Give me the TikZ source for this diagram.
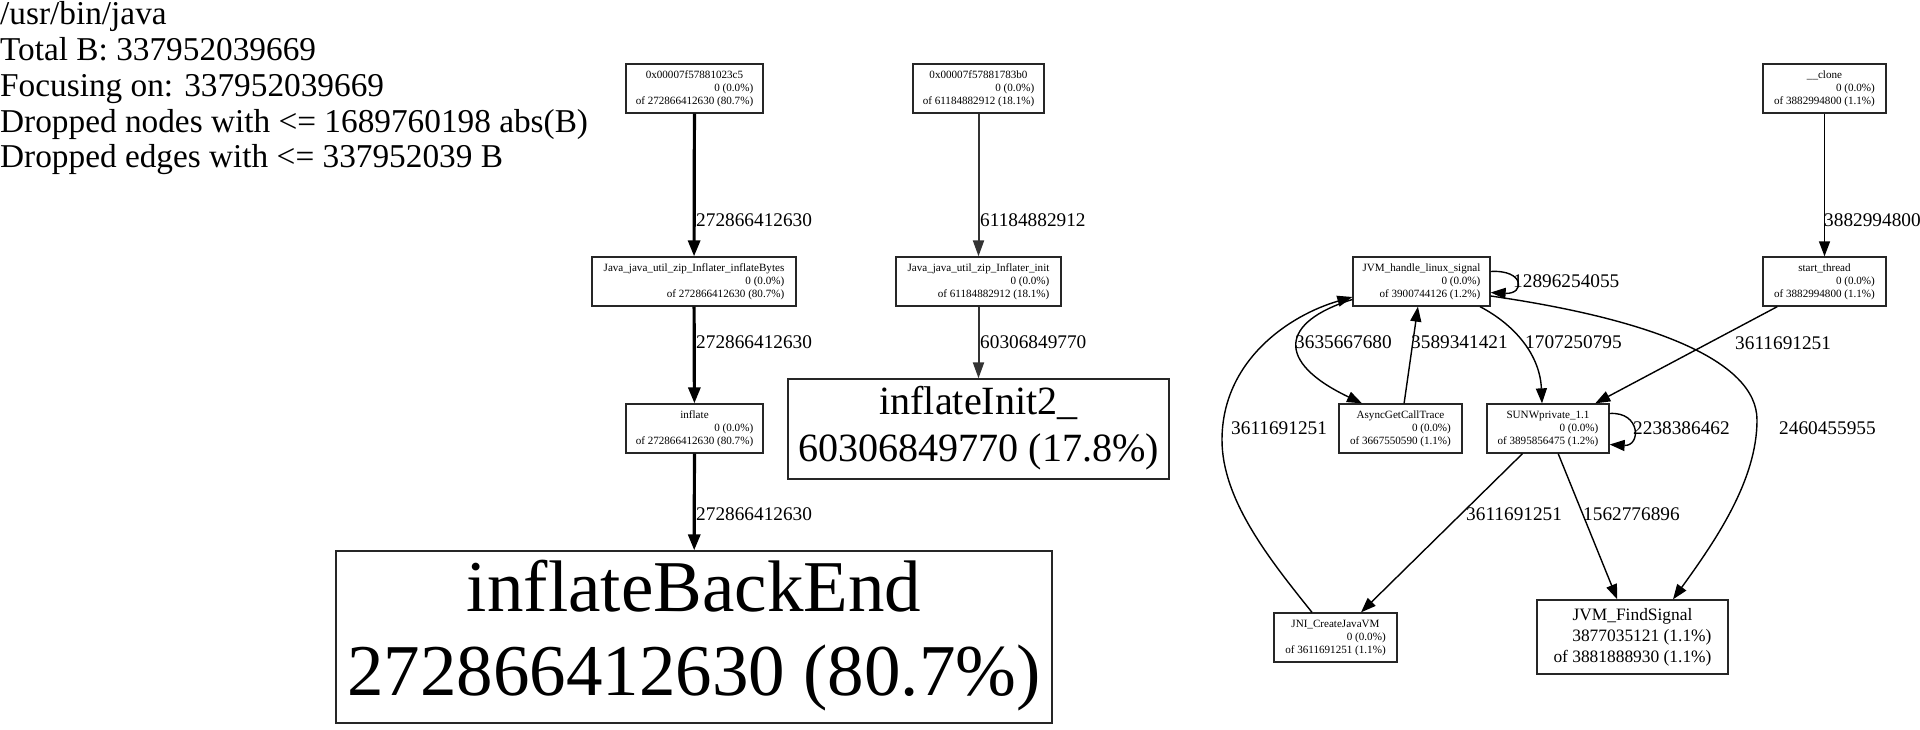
\documentclass[tikz,border=0pt]{standalone}
\usepackage{fontspec}
\setmainfont{Liberation Serif}
\usetikzlibrary{arrows.meta}
\newcommand{\gvbox}[3]{\begin{tabular}{@{}r@{}}\multicolumn{1}{@{}c@{}}{#1}\\#2\\#3\end{tabular}}
\newcommand{\gvbig}[2]{\begin{tabular}{@{}c@{}}#1\\#2\end{tabular}}
\begin{document}
\begin{tikzpicture}[x=1pt,y=-1pt,
  gv/.style={draw=black!85, line width=1.3pt, fill=white, inner sep=0pt, minimum height=49pt, font=\fontsize{11.1}{13}\selectfont},
  e1/.style={-{Triangle[length=15pt,width=11pt]}, line width=1.4pt},
  e2/.style={-{Triangle[length=16pt,width=11pt]}, line width=2pt, draw=black!80, fill=black},
  e3/.style={-{Triangle[length=16pt,width=12pt]}, line width=3.2pt},
  lbl/.style={anchor=west, inner sep=0pt, font=\fontsize{19.3}{23}\selectfont},
  hdr/.style={anchor=base west, inner sep=0pt, font=\fontsize{33.3}{36}\selectfont}]
\path[use as bounding box, fill=white] (0,0) rectangle (1920,730);

% legend
\node[hdr] (l1) at (0,25) {/usr/bin/java};
\node[hdr] (l2) at (0,61) {Total B: 337952039669};
\node[hdr] (l3) at (0,97) {Focusing on: 337952039669};
\node[hdr] (l4) at (0,133) {Dropped nodes with <= 1689760198 abs(B)};
\node[hdr] (l5) at (0,168) {Dropped edges with <= 337952039 B};

% left column
\node[gv, minimum width=137pt] (n1) at (694.5,88.5) {\gvbox{0x00007f57881023c5}{0 (0.0\%)}{of 272866412630 (80.7\%)}};
\node[gv, minimum width=204pt] (ib) at (694,281.5) {\gvbox{Java\_java\_util\_zip\_Inflater\_inflateBytes}{0 (0.0\%)}{of 272866412630 (80.7\%)}};
\node[gv, minimum width=137pt] (inf) at (694.5,428.5) {\gvbox{inflate}{0 (0.0\%)}{of 272866412630 (80.7\%)}};
\node[gv, minimum width=716pt, minimum height=172pt, font=\fontsize{73}{84}\selectfont] (ibe) at (694,637) {\gvbig{inflateBackEnd}{272866412630 (80.7\%)}};

% second column
\node[gv, minimum width=131pt] (n2) at (978.5,88.5) {\gvbox{0x00007f57881783b0}{0 (0.0\%)}{of 61184882912 (18.1\%)}};
\node[gv, minimum width=165pt] (ii) at (978.5,281.5) {\gvbox{Java\_java\_util\_zip\_Inflater\_init}{0 (0.0\%)}{of 61184882912 (18.1\%)}};
\node[gv, minimum width=381pt, minimum height=100pt, font=\fontsize{40.1}{47}\selectfont] (ii2) at (978.5,429) {\gvbig{inflateInit2\_}{60306849770 (17.8\%)}};

% right cluster
\node[gv, minimum width=123pt] (clone) at (1824.5,88.5) {\gvbox{\_\_clone}{0 (0.0\%)}{of 3882994800 (1.1\%)}};
\node[gv, minimum width=123pt] (st) at (1824.5,281.5) {\gvbox{start\_thread}{0 (0.0\%)}{of 3882994800 (1.1\%)}};
\node[gv, minimum width=137pt] (jh) at (1421.5,281.5) {\gvbox{JVM\_handle\_linux\_signal}{0 (0.0\%)}{of 3900744126 (1.2\%)}};
\node[gv, minimum width=123pt] (ag) at (1400.5,428.5) {\gvbox{AsyncGetCallTrace}{0 (0.0\%)}{of 3667550590 (1.1\%)}};
\node[gv, minimum width=122pt] (sun) at (1548,428.5) {\gvbox{SUNWprivate\_1.1}{0 (0.0\%)}{of 3895856475 (1.2\%)}};
\node[gv, minimum width=123pt] (jni) at (1335.5,637.5) {\gvbox{JNI\_CreateJavaVM}{0 (0.0\%)}{of 3611691251 (1.1\%)}};
\node[gv, minimum width=191pt, minimum height=74pt, font=\fontsize{17.4}{21}\selectfont] (fs) at (1632.5,637) {\gvbox{JVM\_FindSignal}{3877035121 (1.1\%)}{of 3881888930 (1.1\%)}};

% edges left
\draw[e3] (n1) -- (ib);
\draw[e3] (ib) -- (inf);
\draw[e3] (inf) -- (ibe);
\node[lbl] (t1) at (696,220) {272866412630};
\node[lbl] (t2) at (696,342) {272866412630};
\node[lbl] (t3) at (696,514) {272866412630};

\draw[e2] (n2) -- (ii);
\draw[e2] (ii) -- (ii2);
\node[lbl] (t4) at (980,220) {61184882912};
\node[lbl] (t5) at (980,342) {60306849770};

% edges right
\draw[e1] (clone) -- (st);
\node[lbl] (t6) at (1824,220) {3882994800};

\draw[e1] ([yshift=10]jh.east) .. controls (1525,269.5) and (1525,294.5) .. ([yshift=-11]jh.east);
\node[lbl] (t7) at (1513,281) {12896254055};

\draw[e1] ([yshift=-18]jh.west) .. controls (1280,322) and (1275,362) .. ([xshift=-38.5]ag.north);
\node[lbl] (t8) at (1295,342) {3635667680};

\draw[e1] (ag) -- (jh);
\node[lbl] (t9) at (1411,342) {3589341421};

\draw[e1] ([xshift=58.5]jh.south) .. controls (1515,325) and (1540,355) .. ([xshift=-6]sun.north);
\node[lbl] (t10) at (1525,342) {1707250795};

\draw[e1] (st) -- (sun);
\node[lbl] (t11) at (1735,343) {3611691251};

\draw[e1] ([yshift=-14.5]jh.east) .. controls (1650,319) and (1757,360) .. (1757,420) .. controls (1757,480) and (1716,540) .. ([xshift=40.5]fs.north);
\node[lbl] (t14) at (1779,428) {2460455955};

\draw[e1] ([yshift=15]sun.east) .. controls (1641,411.5) and (1641,446.5) .. ([yshift=-16]sun.east);
\node[lbl] (t13) at (1633,428) {2238386462};

\draw[e1] ([xshift=-23.5]jni.north) .. controls (1270,560) and (1222,500) .. (1222,440) .. controls (1222,360) and (1290,315) .. ([yshift=-15.5]jh.west);
\node[lbl] (t12) at (1231,428) {3611691251};

\draw[e1] (sun) -- (jni);
\node[lbl] (t15) at (1466,514) {3611691251};

\draw[e1] (sun) -- (fs);
\node[lbl] (t16) at (1583,514) {1562776896};
\end{tikzpicture}
\end{document}
